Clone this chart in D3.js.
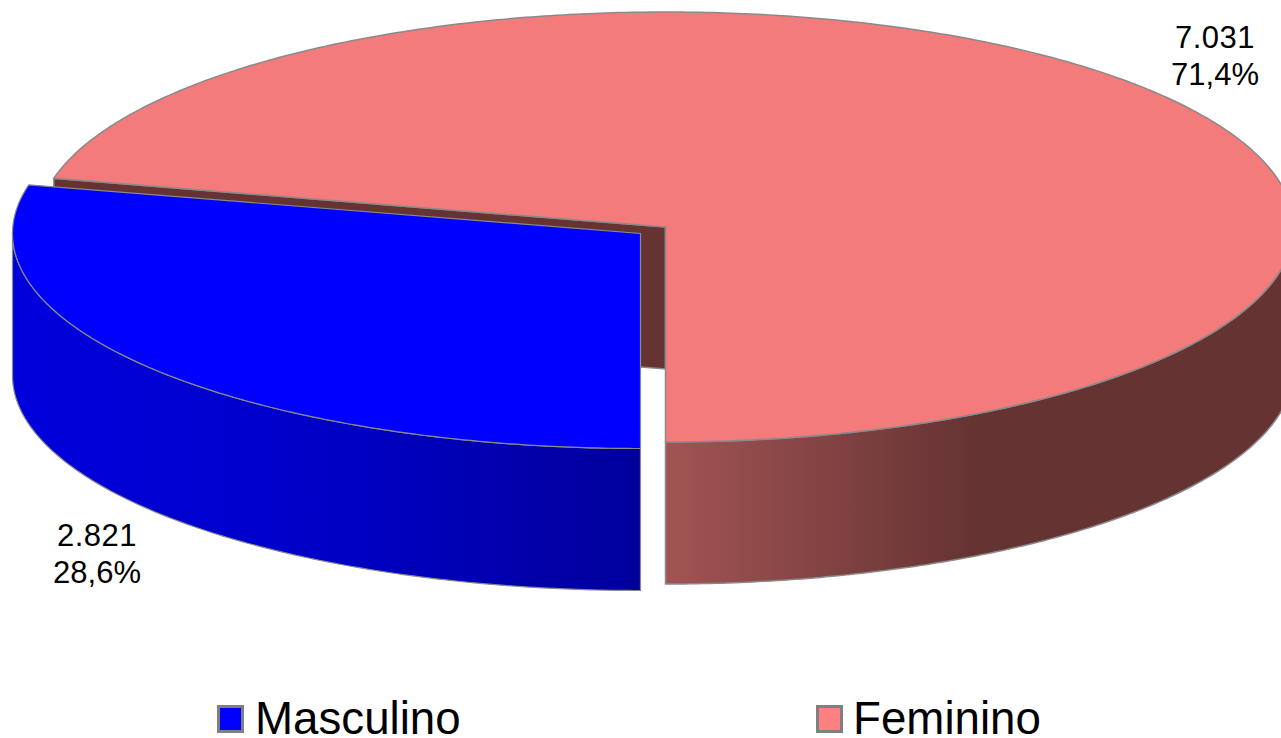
<!DOCTYPE html>
<html><head><meta charset="utf-8">
<script src="https://d3js.org/d3.v7.min.js"></script>
<style>html,body{margin:0;padding:0;background:#fff;overflow:hidden}svg{display:block}text{font-family:"Liberation Sans",Arial,sans-serif;fill:#000}</style>
</head><body><svg id="c" width="1281" height="738"></svg>
<script>
const categories = ["Masculino", "Feminino"];
const values = [2821, 7031];
const valueLabels = ["2.821", "7.031"];
const percentLabels = ["28,6%", "71,4%"];
const topColors = ["#0000ff", "#f47b7b"];
const legendColors = ["#0000ff", "#ff8080"];
const wallStops = [
  [[0, "#0000dc"], [0.45, "#0000ca"], [1, "#00009c"]],
  [[0, "#a25454"], [0.5, "#663333"], [1, "#663333"]]
];

const W = 1281, H = 738, R = 628, tilt = 215 / 628, depth = 142;
const centers = [[640.5, 233.5], [665.5, 227]];
const svg = d3.select("#c");
const defs = svg.append("defs");

const pie = d3.pie().sort(null).startAngle(Math.PI).endAngle(3 * Math.PI);
const arcs = pie(values);

const scaleX = d3.scaleLinear().domain([-1, 1]).range([-R, R]);
const scaleY = d3.scaleLinear().domain([-1, 1]).range([-R * tilt, R * tilt]);
function pt(i, a, h) {
  const c = centers[i];
  return [c[0] + scaleX(Math.sin(a)), c[1] - scaleY(Math.cos(a)) + (h || 0)];
}
function samples(a0, a1) {
  const n = Math.ceil(Math.abs(a1 - a0) / 0.01);
  return d3.range(n + 1).map(k => a0 + (a1 - a0) * k / n);
}
const line = d3.line();
const stroke = "#8a8a8a";

[[12, 640], [665, 1281]].forEach((ext, i) => {
  const g = defs.append("linearGradient").attr("id", "w" + i)
    .attr("gradientUnits", "userSpaceOnUse")
    .attr("x1", ext[0]).attr("x2", ext[1]).attr("y1", 0).attr("y2", 0);
  wallStops[i].forEach(s => g.append("stop").attr("offset", s[0]).attr("stop-color", s[1]));
});

function topPath(i) {
  const d = arcs[i];
  return line([centers[i]].concat(samples(d.startAngle, d.endAngle).map(a => pt(i, a)))) + "Z";
}
function wallPath(i, a0, a1) {
  const up = samples(a0, a1).map(a => pt(i, a));
  const down = samples(a1, a0).map(a => pt(i, a, depth));
  return line(up.concat(down)) + "Z";
}

const fem = arcs[1], mas = arcs[0];
const cF = centers[1], eF = pt(1, fem.startAngle);
svg.append("path")
  .attr("d", line([cF, eF, [eF[0], eF[1] + depth], [cF[0], cF[1] + depth]]) + "Z")
  .attr("fill", "#663333").attr("stroke", stroke).attr("stroke-width", 1.5);
svg.append("path").attr("d", wallPath(1, Math.PI / 2, Math.PI))
  .attr("fill", "url(#w1)").attr("stroke", stroke).attr("stroke-width", 1.5);
svg.append("path").attr("d", topPath(1))
  .attr("fill", topColors[1]).attr("stroke", stroke).attr("stroke-width", 1.5);
svg.append("path").attr("d", wallPath(0, Math.PI, 3 * Math.PI / 2))
  .attr("fill", "url(#w0)").attr("stroke", stroke).attr("stroke-width", 1.2);
svg.append("path").attr("d", topPath(0))
  .attr("fill", topColors[0]).attr("stroke", stroke).attr("stroke-width", 1.2);

const labelPos = [[97, 546], [1215, 48]];
categories.forEach((c, i) => {
  const t = svg.append("text").attr("text-anchor", "middle").attr("font-size", 31);
  t.append("tspan").attr("x", labelPos[i][0]).attr("y", labelPos[i][1]).attr("letter-spacing", 0.5).text(valueLabels[i]);
  t.append("tspan").attr("x", labelPos[i][0]).attr("y", labelPos[i][1] + 36.5).text(percentLabels[i]);
});

const legendX = [218.5, 817.5];
const legendTextX = [255, 853];
categories.forEach((c, i) => {
  svg.append("rect").attr("x", legendX[i]).attr("y", 706.5).attr("width", 24).attr("height", 25)
    .attr("fill", legendColors[i])
    .attr("stroke", "#808080").attr("stroke-width", 3);
  svg.append("text").attr("x", legendTextX[i]).attr("y", 734).attr("font-size", 45.7).text(c);
});
</script></body></html>
